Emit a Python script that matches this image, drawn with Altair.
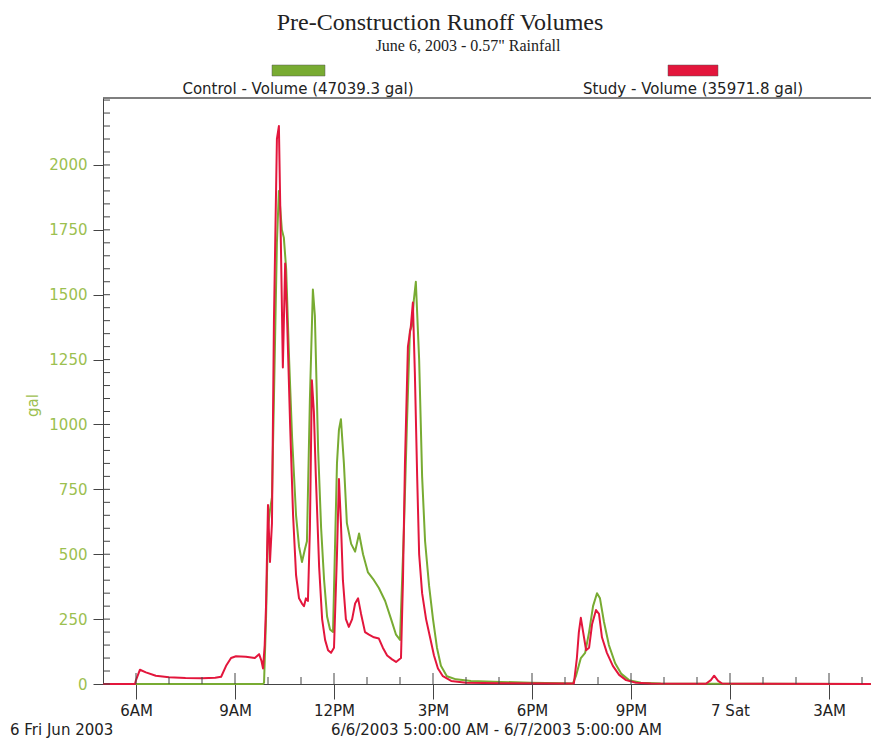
import altair as alt
import pandas as pd

# ---------------- data ----------------
# hours after 6/6/2003 5:00 AM
control_hours = [0, 4.85, 4.88, 4.94, 5.0, 5.06, 5.12, 5.18, 5.27, 5.33, 5.42, 5.48, 5.55, 5.64,
                 5.73, 5.85, 5.94, 6.03, 6.12, 6.18, 6.27, 6.36, 6.42, 6.52, 6.61, 6.7, 6.79, 6.88,
                 6.97, 7.09, 7.15, 7.21, 7.3, 7.39, 7.52, 7.64, 7.76, 7.88, 8.03, 8.21, 8.36, 8.55,
                 8.73, 8.88, 9.0, 9.12, 9.21, 9.3, 9.36, 9.42, 9.48, 9.58, 9.67, 9.76, 9.88, 10.0,
                 10.12, 10.24, 10.42, 10.7, 11.15, 12.06, 12.97, 13.88, 14.24, 14.33, 14.48, 14.61,
                 14.73, 14.85, 14.97, 15.06, 15.18, 15.33, 15.52, 15.7, 15.94, 16.3, 16.9, 23.27]
control_gal = [0, 0, 5, 250, 600, 670, 720, 1100, 1700, 1900, 1750, 1720, 1600, 1250,
               950, 650, 530, 470, 520, 550, 1100, 1520, 1420, 900, 600, 400, 260, 210,
               200, 850, 980, 1020, 850, 620, 540, 510, 580, 500, 430, 400, 370, 320,
               250, 190, 170, 600, 1000, 1360, 1380, 1480, 1550, 1250, 800, 550, 380, 250,
               140, 70, 30, 18, 12, 8, 5, 3, 2, 30, 100, 120,
               200, 300, 350, 330, 240, 150, 80, 40, 15, 5, 2, 0]

study_hours = [0, 0.97, 1.0, 1.12, 1.3, 1.6, 2.0, 2.5, 3.0, 3.4, 3.58, 3.73, 3.88, 4.03, 4.33,
               4.6, 4.73, 4.8, 4.85, 4.9, 4.94, 5.0, 5.06, 5.12, 5.18, 5.27, 5.33, 5.39, 5.45,
               5.52, 5.58, 5.67, 5.76, 5.85, 5.94, 6.03, 6.09, 6.15, 6.21, 6.27, 6.33, 6.39, 6.45,
               6.55, 6.64, 6.73, 6.82, 6.91, 7.0, 7.09, 7.15, 7.21, 7.27, 7.36, 7.45, 7.55, 7.64,
               7.73, 7.82, 7.94, 8.06, 8.21, 8.36, 8.48, 8.61, 8.76, 8.88, 9.03, 9.09, 9.15, 9.24,
               9.33, 9.39, 9.45, 9.52, 9.58, 9.67, 9.79, 9.91, 10.03, 10.15, 10.3, 10.55, 11.0,
               12.06, 13.9, 14.27, 14.36, 14.42, 14.48, 14.55, 14.64, 14.73, 14.82, 14.94, 15.03,
               15.12, 15.27, 15.45, 15.64, 15.85, 16.15, 16.6, 18.27, 18.42, 18.52, 18.64, 18.76,
               20.0, 23.27]
study_gal = [0, 0, 15, 55, 45, 32, 26, 23, 22, 24, 28, 70, 100, 107, 105,
             100, 115, 90, 60, 150, 300, 690, 470, 620, 1400, 2100, 2150, 1700, 1220,
             1620, 1400, 1000, 650, 420, 330, 310, 300, 330, 320, 600, 1170, 1050, 800,
             450, 250, 170, 130, 120, 140, 500, 790, 620, 400, 250, 220, 250, 310,
             330, 270, 200, 190, 180, 175, 140, 110, 95, 85, 100, 400, 850, 1300,
             1380, 1470, 1200, 800, 500, 350, 250, 180, 110, 60, 30, 12, 5,
             3, 2, 2, 100, 200, 255, 200, 130, 140, 230, 285, 270,
             180, 120, 70, 35, 15, 5, 2, 1, 15, 32, 12, 2,
             1, 0]

series_names = ["Control", "Study"]
series_colors = ["#78ab32", "#e3163c"]
legend_labels = ["Control - Volume (47039.3 gal)", "Study - Volume (35971.8 gal)"]

x_tick_hours = [1, 4, 7, 10, 13, 16, 19, 22]
x_tick_labels = ["6AM", "9AM", "12PM", "3PM", "6PM", "9PM", "7 Sat", "3AM"]
x_minor_hours = [h for h in range(1, 24) if h not in x_tick_hours]
y_tick_values = [0, 250, 500, 750, 1000, 1250, 1500, 1750, 2000]
y_minor_values = list(range(0, 2251, 50))

title_text = "Pre-Construction Runoff Volumes"
subtitle_text = 'June 6, 2003 - 0.57" Rainfall'
x_title_text = "6/6/2003 5:00:00 AM - 6/7/2003 5:00:00 AM"
date_text = "6 Fri Jun 2003"
y_title_text = "gal"

# ---------------- layout ----------------
W, H = 768, 586
X_MAX = W / 33.0
Y_MAX = 2258
SANS = "DejaVu Sans"
SERIF = "Liberation Serif"
AXIS_C = "#444444"
TEXT_C = "#222222"
YLAB_C = "#9cc04f"

df = pd.concat([
    pd.DataFrame({"hours": control_hours, "gal": control_gal, "series": series_names[0]}),
    pd.DataFrame({"hours": study_hours, "gal": study_gal, "series": series_names[1]}),
])

label_expr = "[" + ",".join("'%s'" % s for s in x_tick_labels) + "][round((datum.value - 1) / 3)]"

xscale = alt.Scale(domain=[0, X_MAX], nice=False, zero=False)
yscale = alt.Scale(domain=[0, Y_MAX], nice=False)

x_axis = alt.Axis(
    values=x_tick_hours, labelExpr=label_expr, tickSize=15, tickColor=AXIS_C,
    domainColor=AXIS_C, labelFont=SANS, labelFontSize=15, labelColor=TEXT_C,
    labelPadding=4, grid=False, title=x_title_text, titleFont=SANS, titleFontSize=15,
    titleFontWeight="normal", titleColor=TEXT_C, titleX=393, titlePadding=4,
    labelFlush=False)
y_axis = alt.Axis(
    values=y_tick_values, format="d", tickSize=10, tickColor=AXIS_C, domainColor=AXIS_C,
    labelFont=SANS, labelFontSize=15, labelColor=YLAB_C, labelPadding=6, grid=False,
    title=y_title_text, titleFont=SANS, titleFontSize=15, titleFontWeight="normal",
    titleColor=YLAB_C, titlePadding=8, titleY=307)

lines = alt.Chart(df).mark_line(strokeWidth=2, strokeJoin="round").encode(
    x=alt.X("hours:Q", scale=xscale, axis=x_axis),
    y=alt.Y("gal:Q", scale=yscale, axis=y_axis),
    color=alt.Color("series:N", scale=alt.Scale(domain=series_names, range=series_colors),
                    legend=None),
    order=alt.Order("hours:Q"),
)

y_minor = alt.Chart(pd.DataFrame({"v": y_minor_values})).mark_rule(color=AXIS_C, strokeWidth=1).encode(
    y=alt.Y("v:Q", scale=yscale, axis=y_axis), x=alt.value(0), x2=alt.value(7))

x_minor = alt.Chart(pd.DataFrame({"h": x_minor_hours})).mark_rule(color=AXIS_C, strokeWidth=1).encode(
    x=alt.X("h:Q", scale=xscale, axis=x_axis), y=alt.value(H), y2=alt.value(H - 7))

x_major_in = alt.Chart(pd.DataFrame({"h": x_tick_hours})).mark_rule(color=AXIS_C, strokeWidth=1).encode(
    x=alt.X("h:Q", scale=xscale, axis=x_axis), y=alt.value(H), y2=alt.value(H - 11))

top_border = alt.Chart(pd.DataFrame({"v": [Y_MAX]})).mark_rule(color="#555555", strokeWidth=1.3).encode(
    y=alt.Y("v:Q", scale=yscale, axis=y_axis), x=alt.value(0), x2=alt.value(W))


def text_layer(txt, x, y, font, size, align="center", color=TEXT_C):
    return alt.Chart(pd.DataFrame({"t": [txt]})).mark_text(
        font=font, fontSize=size, align=align, baseline="alphabetic", color=color
    ).encode(text="t:N", x=alt.value(x), y=alt.value(y))


title = text_layer(title_text, 337, -68, SERIF, 24)
subtitle = text_layer(subtitle_text, 365, -47, SERIF, 16)
leg_lab1 = text_layer(legend_labels[0], 195, -4, SANS, 15)
leg_lab2 = text_layer(legend_labels[1], 590, -4, SANS, 15)
date_lab = text_layer(date_text, -93, 637, SANS, 15, align="left")


def swatch(x0, x1, color):
    return alt.Chart(pd.DataFrame({"c": [color]})).mark_rect(
        stroke="#555555", strokeWidth=0.8, strokeOpacity=0.6
    ).encode(x=alt.value(x0), x2=alt.value(x1), y=alt.value(-33), y2=alt.value(-22),
             fill=alt.value(color))


sw1 = swatch(169, 222, series_colors[0])
sw2 = swatch(565, 615, series_colors[1])

chart = alt.layer(
    lines, y_minor, x_minor, x_major_in, top_border,
    title, subtitle, sw1, sw2, leg_lab1, leg_lab2, date_lab,
).properties(
    width=W, height=H,
    padding={"left": 95, "top": 90, "right": 0, "bottom": 55},
    autosize=alt.AutoSizeParams(type="none"),
    background="white",
).configure_view(stroke=None)

chart.save("out.html", embed_options={"renderer": "svg", "actions": False})
